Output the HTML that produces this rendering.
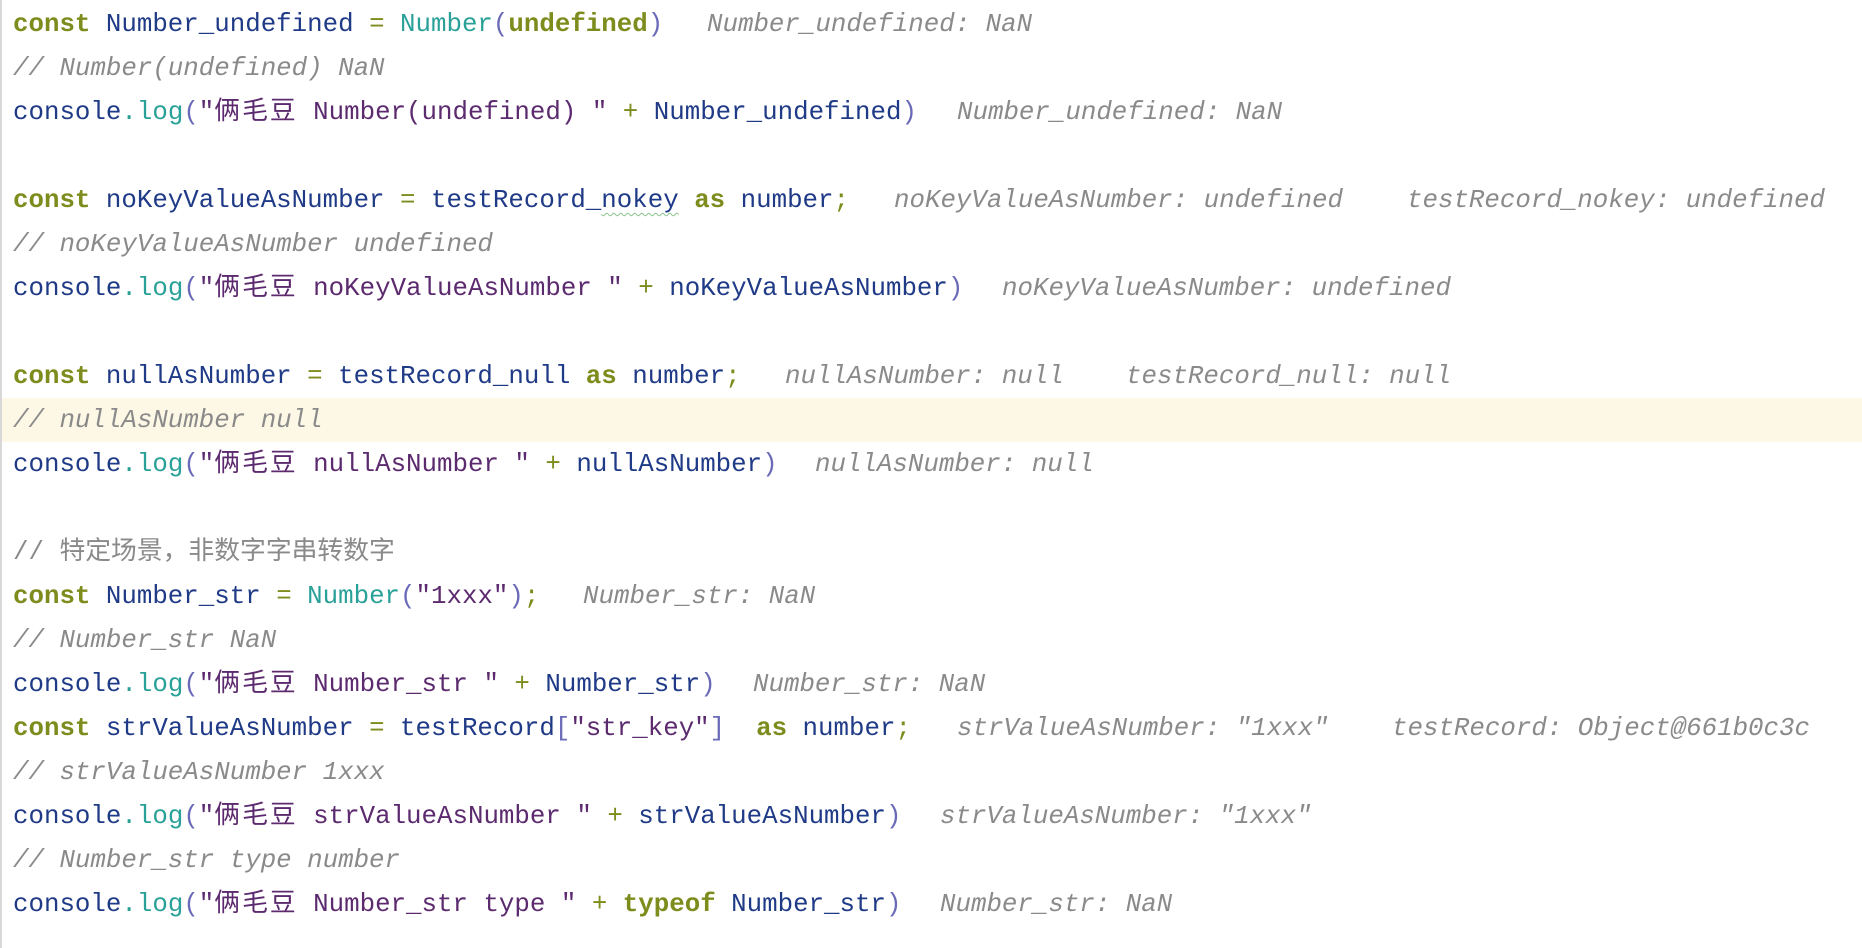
<!DOCTYPE html>
<html><head><meta charset="utf-8"><style>
html,body{margin:0;padding:0;background:#fff;}
body{width:1862px;height:948px;position:relative;overflow:hidden;font-family:"Liberation Mono","Noto Sans CJK SC",monospace;font-size:25.8px;}
.bl{position:absolute;left:0;top:0;width:2px;height:948px;background:#d8d8d8;}
.hl{position:absolute;left:2px;top:398px;width:1860px;height:44px;background:#fdf8e5;}
.l{position:absolute;left:13px;height:44px;line-height:44px;white-space:pre;color:#1f3a86;}
.h{position:absolute;height:44px;line-height:44px;white-space:pre;color:#8a8a8a;font-style:italic;}
.k{color:#7d8c1c;font-weight:bold;}
.o{color:#7d8c1c;}
.f{color:#2aa198;}
.p{color:#6a6ab8;}
.s{color:#5c2a6e;}
.c{color:#8a8a8a;font-style:italic;}
.cj{letter-spacing:2px;}
.w{text-decoration:underline wavy #8bc48a;text-decoration-thickness:1px;text-underline-offset:5px;}
</style></head><body>
<div class="bl"></div>
<div class="hl"></div>

<div class="l" style="top:3px"><span class="k">const</span> Number_undefined <span class="o">=</span> <span class="f">Number</span><span class="p">(</span><span class="k">undefined</span><span class="p">)</span></div>
<div class="h" style="top:3px;left:707px">Number_undefined: NaN</div>

<div class="l c" style="top:47px">// Number(undefined) NaN</div>

<div class="l" style="top:91px">console<span class="f">.log</span><span class="p">(</span><span class="s">"<span class="cj">俩毛豆</span> Number(undefined) "</span> <span class="o">+</span> Number_undefined<span class="p">)</span></div>
<div class="h" style="top:91px;left:957px">Number_undefined: NaN</div>

<div class="l" style="top:179px"><span class="k">const</span> noKeyValueAsNumber <span class="o">=</span> testRecord_<span class="w">nokey</span> <span class="k">as</span> number<span class="o">;</span></div>
<div class="h" style="top:179px;left:894px">noKeyValueAsNumber: undefined</div>
<div class="h" style="top:179px;left:1407px">testRecord_nokey: undefined</div>

<div class="l c" style="top:223px">// noKeyValueAsNumber undefined</div>

<div class="l" style="top:267px">console<span class="f">.log</span><span class="p">(</span><span class="s">"<span class="cj">俩毛豆</span> noKeyValueAsNumber "</span> <span class="o">+</span> noKeyValueAsNumber<span class="p">)</span></div>
<div class="h" style="top:267px;left:1002px">noKeyValueAsNumber: undefined</div>

<div class="l" style="top:355px"><span class="k">const</span> nullAsNumber <span class="o">=</span> testRecord_null <span class="k">as</span> number<span class="o">;</span></div>
<div class="h" style="top:355px;left:785px">nullAsNumber: null</div>
<div class="h" style="top:355px;left:1126px">testRecord_null: null</div>

<div class="l c" style="top:399px">// nullAsNumber null</div>

<div class="l" style="top:443px">console<span class="f">.log</span><span class="p">(</span><span class="s">"<span class="cj">俩毛豆</span> nullAsNumber "</span> <span class="o">+</span> nullAsNumber<span class="p">)</span></div>
<div class="h" style="top:443px;left:815px">nullAsNumber: null</div>

<div class="l" style="top:531px;color:#8a8a8a">// 特定场景，非数字字串转数字</div>

<div class="l" style="top:575px"><span class="k">const</span> Number_str <span class="o">=</span> <span class="f">Number</span><span class="p">(</span><span class="s">"1xxx"</span><span class="p">)</span><span class="o">;</span></div>
<div class="h" style="top:575px;left:583px">Number_str: NaN</div>

<div class="l c" style="top:619px">// Number_str NaN</div>

<div class="l" style="top:663px">console<span class="f">.log</span><span class="p">(</span><span class="s">"<span class="cj">俩毛豆</span> Number_str "</span> <span class="o">+</span> Number_str<span class="p">)</span></div>
<div class="h" style="top:663px;left:753px">Number_str: NaN</div>

<div class="l" style="top:707px"><span class="k">const</span> strValueAsNumber <span class="o">=</span> testRecord<span class="p">[</span><span class="s">"str_key"</span><span class="p">]</span>  <span class="k">as</span> number<span class="o">;</span></div>
<div class="h" style="top:707px;left:957px">strValueAsNumber: "1xxx"</div>
<div class="h" style="top:707px;left:1392px">testRecord: Object@661b0c3c</div>

<div class="l c" style="top:751px">// strValueAsNumber 1xxx</div>

<div class="l" style="top:795px">console<span class="f">.log</span><span class="p">(</span><span class="s">"<span class="cj">俩毛豆</span> strValueAsNumber "</span> <span class="o">+</span> strValueAsNumber<span class="p">)</span></div>
<div class="h" style="top:795px;left:940px">strValueAsNumber: "1xxx"</div>

<div class="l c" style="top:839px">// Number_str type number</div>

<div class="l" style="top:883px">console<span class="f">.log</span><span class="p">(</span><span class="s">"<span class="cj">俩毛豆</span> Number_str type "</span> <span class="o">+</span> <span class="k">typeof</span> Number_str<span class="p">)</span></div>
<div class="h" style="top:883px;left:940px">Number_str: NaN</div>
</body></html>
